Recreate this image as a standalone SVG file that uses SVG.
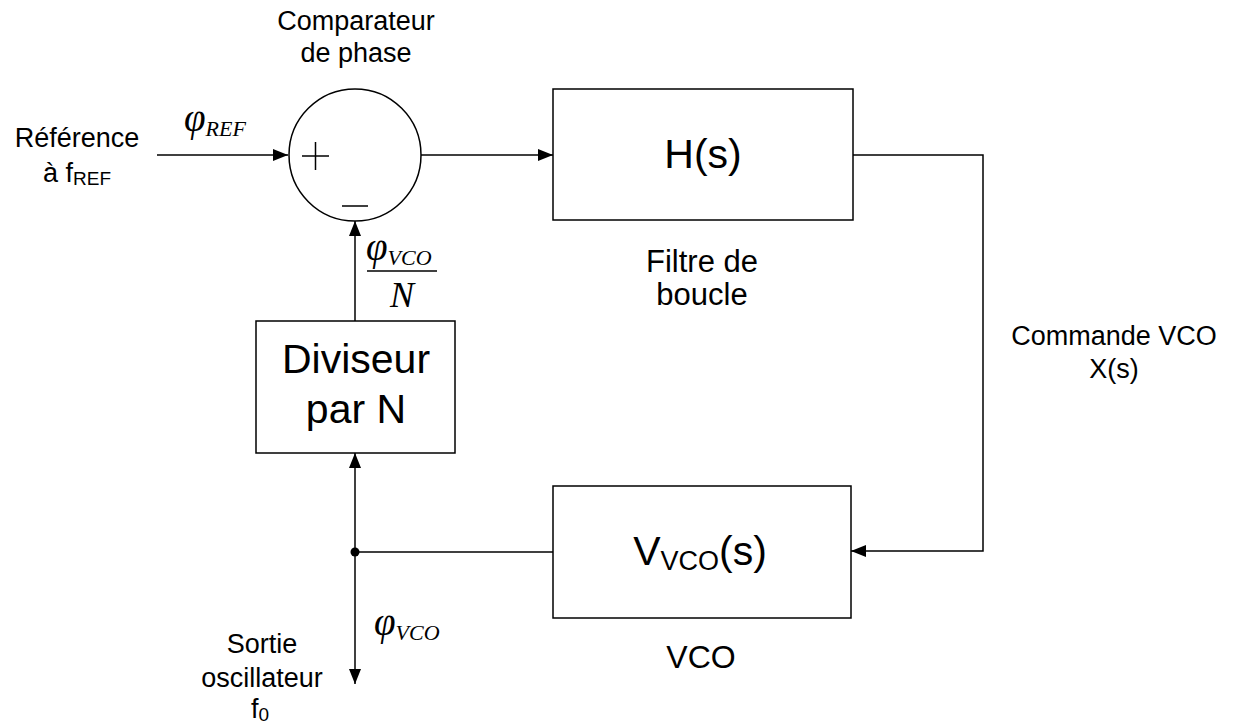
<svg xmlns="http://www.w3.org/2000/svg" width="1233" height="726" viewBox="0 0 1233 726">
<style>
.ln{fill:none;stroke:#000;stroke-width:1.5}
.box{fill:#fff;stroke:#000;stroke-width:1.5}
.lbl{font-family:"Liberation Sans",Arial,sans-serif;font-size:27px;fill:#000;text-anchor:middle}
.big{font-family:"Liberation Sans",Arial,sans-serif;font-size:41px;fill:#000;text-anchor:middle}
.math{font-family:"Liberation Serif","Times New Roman",serif;font-style:italic;fill:#000}
</style>
<defs>
<marker id="arr" markerUnits="userSpaceOnUse" markerWidth="16" markerHeight="12" refX="15" refY="6" orient="auto">
<path d="M0,0 L15,6 L0,12 Z" fill="#000"/>
</marker>
</defs>
<rect width="1233" height="726" fill="#fff"/>
<g id="connectors">
<path class="ln" d="M157,155 H288" marker-end="url(#arr)"/>
<path class="ln" d="M421,155 H553" marker-end="url(#arr)"/>
<path class="ln" d="M853,155 H983 V551 H851" marker-end="url(#arr)"/>
<path class="ln" d="M553,552 H355"/>
<path class="ln" d="M355,552 V453" marker-end="url(#arr)"/>
<path class="ln" d="M355,552 V684" marker-end="url(#arr)"/>
<path class="ln" d="M355,321 V221" marker-end="url(#arr)"/>
<circle cx="355" cy="552" r="4.5" fill="#000"/>
</g>
<g id="comparateur">
<circle class="box" cx="355" cy="155" r="66"/>
<path class="ln" d="M302,156 H329 M315.5,142 V170 M342,206 H368"/>
<text class="lbl" x="356" y="30">Comparateur</text>
<text class="lbl" x="356" y="62">de phase</text>
</g>
<g id="filtre">
<rect class="box" x="553" y="89" width="300" height="131"/>
<text class="big" x="703" y="168">H(s)</text>
<text class="lbl" x="702" y="272" style="font-size:31px">Filtre de</text>
<text class="lbl" x="702" y="305" style="font-size:31px">boucle</text>
</g>
<g id="vco">
<rect class="box" x="553" y="486" width="298" height="132"/>
<text class="big" x="700" y="565">V<tspan font-size="27" dy="5">VCO</tspan><tspan dy="-5">(s)</tspan></text>
<text class="lbl" x="701" y="668" style="font-size:32px">VCO</text>
</g>
<g id="diviseur">
<rect class="box" x="256" y="321" width="199" height="132"/>
<text class="big" x="356" y="373">Diviseur</text>
<text class="big" x="356" y="423">par N</text>
</g>
<g id="reference">
<text class="lbl" x="77" y="147">Référence</text>
<text class="lbl" x="77" y="182">à f<tspan font-size="19" dy="3">REF</tspan></text>
<text class="math" x="184" y="131" font-size="39">φ<tspan font-size="22" dy="5">REF</tspan></text>
</g>
<g id="retour">
<text class="math" x="366" y="260" font-size="39">φ<tspan font-size="22" dy="5">VCO</tspan></text>
<line class="ln" x1="367" y1="271" x2="437" y2="271"/>
<text class="math" x="402" y="307" font-size="36" text-anchor="middle">N</text>
</g>
<g id="sortie">
<text class="math" x="374" y="635" font-size="39">φ<tspan font-size="22" dy="5">VCO</tspan></text>
<text class="lbl" x="262" y="653">Sortie</text>
<text class="lbl" x="262" y="687">oscillateur</text>
<text class="lbl" x="260" y="718">f<tspan font-size="19" dy="3">0</tspan></text>
</g>
<g id="commande">
<text class="lbl" x="1114" y="345">Commande VCO</text>
<text class="lbl" x="1114" y="378">X(s)</text>
</g>
</svg>
